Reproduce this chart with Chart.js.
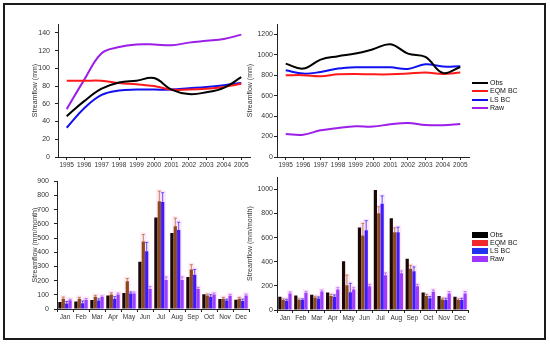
<!DOCTYPE html>
<html>
<head>
<meta charset="utf-8">
<script src="https://cdn.jsdelivr.net/npm/chart.js@4.4.0/dist/chart.umd.min.js"></script>
<style>
  body { margin: 0; background: #fff; width: 550px; height: 344px; position: relative; overflow: hidden; font-family: 'Liberation Sans', Arial, sans-serif; }
  canvas { position: absolute; }
  #frame { position: absolute; left: 3px; top: 3px; width: 543px; height: 337px; border: 2px solid #1a1a1a; box-sizing: border-box; }
  .legend { position: absolute; left: 472px; font-size: 7px; color: #111; }
  .legend div { position: relative; padding-left: 18px; white-space: nowrap; }
  .legend i { position: absolute; left: 0; width: 16px; }
</style>
</head>
<body>
<div id="frame"></div>
<canvas id="c1" width="275" height="172" style="left:0;top:0"></canvas>
<canvas id="c2" width="240" height="172" style="left:238px;top:0"></canvas>
<canvas id="c3" width="275" height="172" style="left:0;top:172px"></canvas>
<canvas id="c4" width="240" height="172" style="left:238px;top:172px"></canvas>
<div id="leg1" class="legend" style="top:79px"></div>
<div id="leg2" class="legend" style="top:231px"></div>
<script>
// categories
const years = ['1995', '1996', '1997', '1998', '1999', '2000', '2001', '2002', '2003', '2004', '2005'];
const months = ['Jan', 'Feb', 'Mar', 'Apr', 'May', 'Jun', 'Jul', 'Aug', 'Sep', 'Oct', 'Nov', 'Dec'];
const seriesNames = ['Obs', 'EQM BC', 'LS BC', 'Raw'];

// annual streamflow (mm), left panel
const annLeftObs = [46, 63, 77, 84, 86, 89, 76, 71, 73, 78, 90];
const annLeftEqm = [86, 86, 86, 83.5, 82, 80, 76, 76, 77, 79, 82.5];
const annLeftLs  = [33, 55, 70, 75, 76, 76, 76, 77.5, 79, 81, 83.5];
const annLeftRaw = [54, 87, 117, 124, 127, 127, 126, 129, 131, 133, 138];

// annual streamflow (mm), right panel
const annRightObs = [913, 864, 952, 985, 1011, 1053, 1102, 1011, 978, 822, 880];
const annRightEqm = [799, 800, 790, 808, 812, 808, 808, 815, 825, 812, 825];
const annRightLs  = [848, 815, 831, 864, 877, 877, 877, 861, 906, 884, 887];
const annRightRaw = [225, 218, 261, 284, 300, 297, 320, 333, 313, 310, 323];

// monthly streamflow (mm/month), left panel
const monLeftObs = [50, 52, 63, 95, 113, 332, 644, 536, 226, 104, 70, 66];
const monLeftEqm = [72, 72, 86, 102, 195, 475, 758, 583, 278, 95, 72, 72];
const monLeftLs  = [38, 41, 59, 72, 110, 407, 753, 556, 242, 86, 59, 57];
const monLeftRaw = [61, 66, 84, 102, 109, 140, 204, 204, 140, 102, 93, 95];
const monLeftEqmErr = [12, 10, 10, 12, 20, 50, 72, 57, 34, 10, 10, 10];
const monLeftLsErr  = [15, 15, 12, 15, 10, 62, 66, 55, 36, 15, 10, 12];
const monLeftRawErr = [8, 8, 8, 10, 10, 18, 22, 22, 12, 10, 10, 10];

// monthly streamflow (mm/month), right panel
const monRightObs = [110, 120, 126, 145, 404, 684, 995, 761, 425, 144, 115, 110];
const monRightEqm = [82, 82, 104, 115, 206, 617, 801, 644, 342, 115, 88, 82];
const monRightLs  = [77, 82, 96, 110, 146, 660, 880, 644, 322, 97, 82, 82];
const monRightRaw = [137, 142, 153, 170, 170, 197, 287, 304, 197, 151, 137, 137];
const monRightEqmErr = [10, 10, 10, 15, 83, 100, 55, 36, 28, 15, 10, 10];
const monRightLsErr  = [12, 10, 12, 15, 75, 80, 65, 42, 35, 15, 15, 15];
const monRightRawErr = [12, 12, 12, 15, 15, 15, 20, 20, 15, 15, 15, 15];

const lineColors = ['#000000', '#ff1a1a', '#1010f0', '#9b1fe8'];
const barColors = ['#1c0606', '#8a4a1c', '#3d1aff', '#9d3bff'];
const errColors = ['#000000', '#b0702a', '#3030ff', '#b060ff'];
const legendBarColors = ['#000000', '#ee2a2a', '#2233ee', '#a033ff'];

Chart.defaults.font.family = "'Liberation Sans', Arial, sans-serif";
Chart.defaults.font.size = 7;
Chart.defaults.color = '#333';
Chart.defaults.animation = false;

function yAxis(max, step, labelMax, width, tickPad, titlePad, title) {
  return {
    min: 0, max: max,
    ticks: { stepSize: step, padding: tickPad, font: { size: 7 }, callback: v => String(v) },
    afterBuildTicks: s => { s.ticks = s.ticks.filter(t => t.value <= labelMax); },
    afterFit: s => { s.width = width; },
    grid: { drawOnChartArea: false, tickLength: 3, color: '#222' },
    border: { color: '#222', width: 1 },
    title: { display: true, text: title, font: { size: 7 }, padding: { top: titlePad, bottom: 0 } }
  };
}

function xAxis(height, offsetGrid) {
  return {
    offset: true,
    ticks: { autoSkip: false, maxRotation: 0, padding: 1, font: { size: 6.5 } },
    afterFit: s => { s.height = height; },
    grid: { drawOnChartArea: false, tickLength: 3, color: '#222', offset: offsetGrid },
    border: { color: '#222', width: 1 }
  };
}

function lineChart(id, values, yOpts, xHeight, pad) {
  return new Chart(document.getElementById(id), {
    type: 'line',
    data: {
      labels: years,
      datasets: values.map((v, i) => ({
        label: seriesNames[i], data: v,
        borderColor: lineColors[i], backgroundColor: lineColors[i],
        borderWidth: 2, pointRadius: 0, tension: 0.4, fill: false
      }))
    },
    options: {
      responsive: false,
      layout: { padding: pad },
      plugins: { legend: { display: false }, tooltip: { enabled: false } },
      scales: { x: xAxis(xHeight, false), y: yOpts }
    }
  });
}

// error bars and light pink halo behind each bar
const errorBars = {
  id: 'errorBars',
  beforeDatasetsDraw(chart) {
    const ctx = chart.ctx, y = chart.scales.y;
    ctx.save();
    ctx.fillStyle = 'rgba(255,190,240,0.35)';
    chart.data.datasets.forEach((ds, di) => {
      if (!ds.errors) return;
      chart.getDatasetMeta(di).data.forEach((bar, j) => {
        const top = y.getPixelForValue(ds.data[j] + ds.errors[j]) - 2;
        ctx.fillRect(bar.x - bar.width / 2 - 1.5, top, bar.width + 3, bar.base - top);
      });
    });
    ctx.restore();
  },
  afterDatasetsDraw(chart) {
    const ctx = chart.ctx, y = chart.scales.y;
    ctx.save();
    ctx.lineWidth = 0.8;
    chart.data.datasets.forEach((ds, di) => {
      if (!ds.errors) return;
      ctx.strokeStyle = errColors[di];
      chart.getDatasetMeta(di).data.forEach((bar, j) => {
        const top = y.getPixelForValue(ds.data[j] + ds.errors[j]);
        ctx.beginPath();
        ctx.moveTo(bar.x, bar.y);
        ctx.lineTo(bar.x, top);
        ctx.moveTo(bar.x - 1.5, top);
        ctx.lineTo(bar.x + 1.5, top);
        ctx.stroke();
      });
    });
    ctx.restore();
  }
};

function barChart(id, values, errors, yOpts, xHeight, pad) {
  return new Chart(document.getElementById(id), {
    type: 'bar',
    data: {
      labels: months,
      datasets: values.map((v, i) => ({
        label: seriesNames[i], data: v, errors: errors[i],
        backgroundColor: barColors[i], borderWidth: 0,
        categoryPercentage: 0.85, barPercentage: 0.95
      }))
    },
    options: {
      responsive: false,
      layout: { padding: pad },
      plugins: { legend: { display: false }, tooltip: { enabled: false } },
      scales: { x: xAxis(xHeight, true), y: yOpts }
    },
    plugins: [errorBars]
  });
}

const ch1 = lineChart('c1', [annLeftObs, annLeftEqm, annLeftLs, annLeftRaw],
  yAxis(150, 20, 140, 58, 5, 31, 'Streamflow (mm)'), 15, { top: 24, right: 25, left: 0, bottom: 0 });
const ch2 = lineChart('c2', [annRightObs, annRightEqm, annRightLs, annRightRaw],
  yAxis(1300, 200, 1200, 39, 1, 8, 'Streamflow (mm)'), 15, { top: 24, right: 9, left: 0, bottom: 0 });
const ch3 = barChart('c3', [monLeftObs, monLeftEqm, monLeftLs, monLeftRaw],
  [null, monLeftEqmErr, monLeftLsErr, monLeftRawErr],
  yAxis(900, 100, 900, 57, 5, 31, 'Streamflow (mm/month)'), 35, { top: 8, right: 26, left: 0, bottom: 0 });
const ch4 = barChart('c4', [monRightObs, monRightEqm, monRightLs, monRightRaw],
  [null, monRightEqmErr, monRightLsErr, monRightRawErr],
  yAxis(1100, 200, 1000, 39, 1, 8, 'Streamflow (mm/month)'), 34, { top: 4, right: 10, left: 0, bottom: 0 });

// html legends built from the chart datasets
function buildLegend(elId, chart, rowH, swatch) {
  const el = document.getElementById(elId);
  chart.data.datasets.forEach((ds, i) => {
    const row = document.createElement('div');
    row.style.height = rowH + 'px';
    row.style.lineHeight = rowH + 'px';
    const mark = document.createElement('i');
    swatch(mark, i, rowH);
    row.appendChild(mark);
    row.appendChild(document.createTextNode(ds.label));
    el.appendChild(row);
  });
}
buildLegend('leg1', ch2, 8.33, (m, i, h) => {
  m.style.top = (h / 2 - 1) + 'px'; m.style.height = '2px'; m.style.background = lineColors[i];
});
buildLegend('leg2', ch4, 8, (m, i, h) => {
  m.style.top = '0.75px'; m.style.height = '6.5px'; m.style.background = legendBarColors[i];
});
</script>
</body>
</html>
